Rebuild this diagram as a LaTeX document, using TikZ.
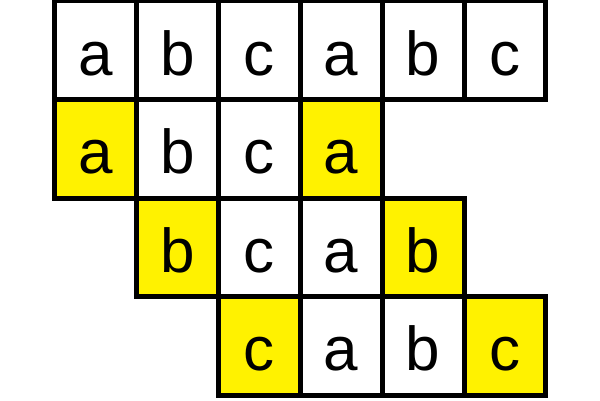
\documentclass[tikz,border=0pt]{standalone}
\usepackage{fontspec}
\setmainfont{Liberation Sans}
\usetikzlibrary{positioning}
\tikzset{cell/.style={draw,line width=5pt,fill=white,inner sep=0pt,outer sep=0pt,
    minimum width=81.9pt,minimum height=98.5pt,text height=50pt,text depth=0pt,
    font=\fontsize{62}{62}\selectfont},
  hit/.style={cell,fill=yellow}}

\begin{document}
\begin{tikzpicture}[x=1pt,y=1pt]
    \useasboundingbox (0,0) rectangle (600,400);
    % first row, the whole string
    \node[cell] (r1c1) at (95.45,349.75) {a};
    \foreach \l [count=\c from 2] in {b,c,a,b,c} {
        \pgfmathtruncatemacro{\p}{\c-1}
        \node[cell,right=0pt of r1c\p] (r1c\c) {\l};
    }
    % shifted rows, matches in yellow
    \node[hit,below=0pt of r1c1] (r2c1) {a};
    \node[cell,right=0pt of r2c1] (r2c2) {b};
    \node[cell,right=0pt of r2c2] (r2c3) {c};
    \node[hit,right=0pt of r2c3] (r2c4) {a};
    \node[hit,below=0pt of r2c2] (r3c2) {b};
    \node[cell,right=0pt of r3c2] (r3c3) {c};
    \node[cell,right=0pt of r3c3] (r3c4) {a};
    \node[hit,right=0pt of r3c4] (r3c5) {b};
    \node[hit,below=0pt of r3c3] (r4c3) {c};
    \node[cell,right=0pt of r4c3] (r4c4) {a};
    \node[cell,right=0pt of r4c4] (r4c5) {b};
    \node[hit,right=0pt of r4c5] (r4c6) {c};
\end{tikzpicture}
\end{document}
